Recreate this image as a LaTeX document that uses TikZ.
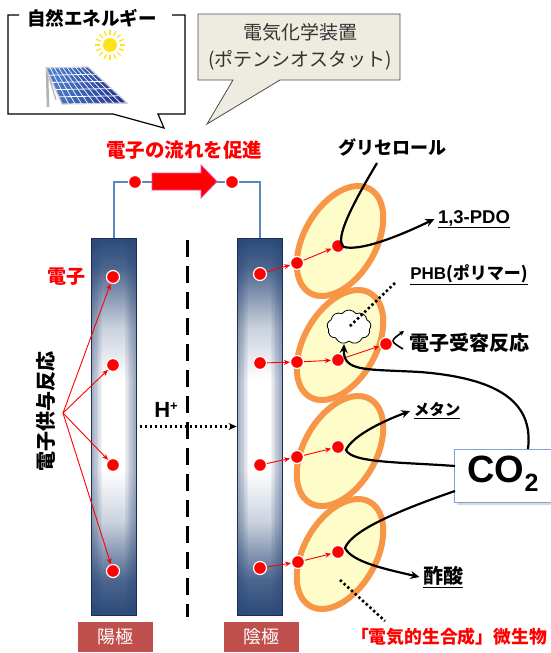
\documentclass[tikz,border=0pt]{standalone}
\usepackage{fontspec}
\setmainfont{Noto Sans CJK JP}
\newfontfamily\lat{Liberation Sans}
\usetikzlibrary{arrows.meta,shapes.geometric,shapes.symbols}

\definecolor{elec}{HTML}{2C4A7A}
\definecolor{elecline}{HTML}{1C2F50}
\definecolor{wire}{HTML}{5B87C0}
\definecolor{cellfill}{HTML}{FEFCC8}
\definecolor{cellline}{HTML}{F79646}
\definecolor{pole}{HTML}{C0504D}
\definecolor{beige}{HTML}{EEECE1}
\definecolor{boxline}{HTML}{7BA3D6}
\definecolor{panelD}{HTML}{1E2C8E}
\definecolor{panelL}{HTML}{4F86D0}
\definecolor{sun}{HTML}{FFE21A}

\newcommand{\fs}[1]{\fontsize{#1}{#1}\selectfont}

\tikzset{
  electrode/.style={rectangle, minimum width=45pt, minimum height=377pt, inner sep=0pt,
    draw=elecline, line width=0.8pt},
  dot/.style={circle, fill=red, draw=white, line width=1.2pt, minimum size=13pt, inner sep=0pt},
  redarr/.style={draw=red, line width=0.9pt, -{Stealth[length=6pt,width=5pt]}},
  flow/.style={draw=black, line width=2.2pt, -{Stealth[length=9pt,width=8pt]}},
  wire/.style={draw=wire, line width=2pt},
  cell/.style={ellipse, draw=cellline, fill=cellfill, line width=6pt, rotate=60,
    minimum width=120pt, minimum height=72pt, inner sep=0pt},
  dotline/.style={draw=black, line width=2.6pt, dash pattern=on 2.4pt off 2.6pt},
  polebox/.style={rectangle, fill=pole, text=white, minimum width=75pt, minimum height=30pt,
    inner sep=0pt, font=\fs{18}},
  heavy/.style={font=\bfseries\fs{#1}},
  redhead/.style={text=red, font=\bfseries\fs{#1}},
}

\begin{document}
\begin{tikzpicture}[x=1pt, y=-1pt]
\useasboundingbox (0,0) rectangle (550,653);

% ---------- callout: natural energy ----------
\draw[line width=1.2pt] (19,15) -- (8,15) -- (8,114) -- (113,114) -- (164,128)
  -- (158,114) -- (185,114) -- (185,15) -- (172,15);
\node[heavy=18.5] (nature) at (92,18) {自然エネルギー};

% sun
\fill[sun] (110,45) circle (7pt);
\foreach \a in {0,22.5,...,337.5}
  \draw[sun, line width=1.3pt] (110,45) ++(\a:10pt) -- ++(\a:5pt);

% solar panel on its stand
\draw[gray!60, line width=2.5pt] (47,70) -- (48,107);
\draw[gray!50, line width=1.5pt] (47,70) -- (56,100);
\filldraw[left color=panelL, right color=panelD, draw=gray!40, line width=1.2pt]
  (46,68) -- (88,67) -- (127,103) -- (62,104) -- cycle;
\foreach \i in {1,...,4}{
  \pgfmathsetmacro{\t}{\i/5}
  \draw[white, line width=0.8pt] ({46+16*\t},{68+36*\t}) -- ({88+39*\t},{67+36*\t});
}
\foreach \j in {1,...,9}{
  \pgfmathsetmacro{\s}{\j/10}
  \draw[white, line width=0.7pt] ({46+42*\s},{68-\s}) -- ({62+65*\s},{104-\s});
}

% ---------- callout: potentiostat ----------
\filldraw[fill=beige, draw=black!70, line width=0.8pt]
  (198,14) -- (400,14) -- (400,80) -- (280,80) -- (207,124) -- (233,80) -- (198,80) -- cycle;
\node[text=black!80, font=\fs{19}, align=center] (pstat) at (300,47)
  {電気化学装置\\[8pt](ポテンシオスタット)};

\node[redhead=19.5] (promote) at (184,150) {電子の流れを促進};

% ---------- electrode bodies: dark ends fading to a pale middle, darker sides ----------
\foreach \xl in {91,237}{
  \shade[top color=elec, bottom color=elec!85] (\xl,238) rectangle ++(45,30);
  \shade[top color=elec!85, bottom color=elec!25] (\xl,268) rectangle ++(45,60);
  \shade[top color=elec!25, bottom color=white] (\xl,328) rectangle ++(45,52);
  \fill[white] (\xl,380) rectangle ++(45,90);
  \shade[top color=white, bottom color=elec!25] (\xl,470) rectangle ++(45,52);
  \shade[top color=elec!25, bottom color=elec!85] (\xl,522) rectangle ++(45,58);
  \shade[top color=elec!85, bottom color=elec] (\xl,580) rectangle ++(45,35);
  \foreach \k in {1,...,8}{
    \fill[elec, opacity=0.07] (\xl,238) rectangle ++({\k*1.4},377);
    \fill[elec, opacity=0.07] ({\xl+45},238) rectangle ++({-\k*1.4},377);
  }
}
\node[electrode] (anode) at (113.5,426.5) {};
\node[electrode] (cathode) at (259.5,426.5) {};

% external circuit
\draw[wire] (anode.north) -- ++(0,-56) -| (cathode.north);
\node[dot] (W1) at (135,182) {};
\node[dot] (W2) at (232,182) {};
\filldraw[fill=red, draw=magenta!70, line width=0.8pt]
  (152,173) -- (201,173) -- (201,165) -- (217,181.5) -- (201,198) -- (201,190) -- (152,190) -- cycle;

% membrane
\draw[black, line width=3pt, dash pattern=on 17pt off 9pt] (187,240) -- (187,617);

% proton transfer
\node[font=\lat\bfseries\fs{22}] (hplus) at (166,410) {H\raisebox{7pt}{\fs{13}+}};
\coordinate (hstart) at (140,426.5);
\draw[dotline, -{Stealth[length=8pt,width=7pt]}] (hstart) -- (cathode.west);

% electrode labels
\node[polebox] (anodelbl) at (115.5,637) {陽極};
\node[polebox] (cathodelbl) at (261.5,637) {陰極};

% ---------- anode: electron donation ----------
\node[dot] (L1) at (113,277) {};
\node[dot] (L2) at (113,365) {};
\node[dot] (L3) at (113,465) {};
\node[dot] (L4) at (113,571) {};
\node[redhead=19] (elabel) at (66,277) {電子};
\node[heavy=20, rotate=90] (donor) at (46,411) {電子供与反応};
\coordinate (src) at (63,413);
\foreach \k in {1,...,4} \draw[redarr] (src) -- (L\k);

% ---------- cathode dots ----------
\node[dot] (R1) at (260,274) {};
\node[dot] (R2) at (260,363) {};
\node[dot] (R3) at (260,465) {};
\node[dot] (R4) at (260,568) {};

% ---------- microbial cells ----------
\node[cell] (cell1) at (340,241) {};
\node[cell] (cell2) at (340,345) {};
\node[cell] (cell3) at (340,451) {};
\node[cell] (cell4) at (340,554) {};

\node[cloud, cloud puffs=9, cloud puff arc=110, aspect=1.35, draw=black, fill=white,
  line width=0.8pt, minimum width=44pt, minimum height=34pt, inner sep=0pt] (phbcloud) at (349,327) {};

\node[dot] (B1) at (297,263) {};
\node[dot] (I1) at (338,246) {};
\node[dot] (B2) at (297,362) {};
\node[dot] (I2) at (338,360) {};
\node[dot] (A2) at (386,344) {};
\node[dot] (B3) at (297,457) {};
\node[dot] (I3) at (338,447) {};
\node[dot] (B4) at (298,562) {};
\node[dot] (I4) at (338,552) {};

\foreach \k in {1,...,4}{
  \draw[redarr] (R\k) -- (B\k);
  \draw[redarr] (B\k) -- (I\k);
}
\draw[redarr] (I2) -- (A2);

% ---------- products and substrates ----------
\node[heavy=18] (glycerol) at (392,147) {グリセロール};
\node[font=\lat\bfseries\fs{18.5}] (pdo) at (474,219) {\underline{1,3-PDO}};
\node[font=\bfseries\fs{17}] (phb) at (469,275) {\underline{{\lat PHB}(ポリマー)}};
\node[heavy=20] (acceptor) at (469,343) {電子受容反応};
\node[heavy=15.5] (methane) at (437,411) {\underline{メタン}};
\node[heavy=20] (acetate) at (443,577) {\underline{酢酸}};
\node[redhead=17.8, inner sep=0pt] (biocat) at (449,637) {「電気的生合成」微生物};

% CO2 box
\fill[black!15] (457,452) rectangle (554,505);
\node[rectangle, draw=boxline, fill=white, line width=1pt, minimum width=97pt,
  minimum height=53pt, inner sep=0pt] (co2) at (502.5,475.5) {};
\node[font=\lat\bfseries\fs{38}] (co2txt) at (503,474) {CO\raisebox{-9pt}{\fs{25}2}};

% glycerol -> 1,3-PDO
\coordinate (g1) at (377,163);
\draw[flow] (g1) .. controls (355,200) and (333,240) .. (344,247)
  .. controls (360,251) and (395,238) .. (pdo.west);

% CO2 -> PHB
\coordinate (c1) at (528,449);
\coordinate (cl) at (344,344);
\draw[flow] (c1) .. controls (534,400) and (495,378) .. (420,372)
  .. controls (365,369) and (343,372) .. (cl);

% CO2 -> methane
\coordinate (c2) at (455,466);
\draw[flow] (c2) .. controls (400,462) and (352,463) .. (346,450)
  .. controls (352,437) and (378,423) .. (methane.west);

% CO2 -> acetate
\coordinate (c3) at (455,491);
\draw[flow] (c3) .. controls (400,510) and (352,530) .. (345,548)
  .. controls (352,562) and (385,569) .. (acetate.west);

% electron acceptance marker
\coordinate (e1) at (403,349);
\coordinate (e2) at (404,331);
\draw[draw=black, line width=1.6pt, -{Stealth[length=5pt,width=5pt]}] (e1) .. controls (390,341) .. (e2);

% pointers to the polymer and the cells
\coordinate (p1) at (395,283);
\draw[dotline] (p1) -- (phbcloud.center);
\coordinate (m1) at (340,580);
\coordinate (m2) at (385,621);
\draw[dotline] (m1) -- (m2);
\end{tikzpicture}
\end{document}
